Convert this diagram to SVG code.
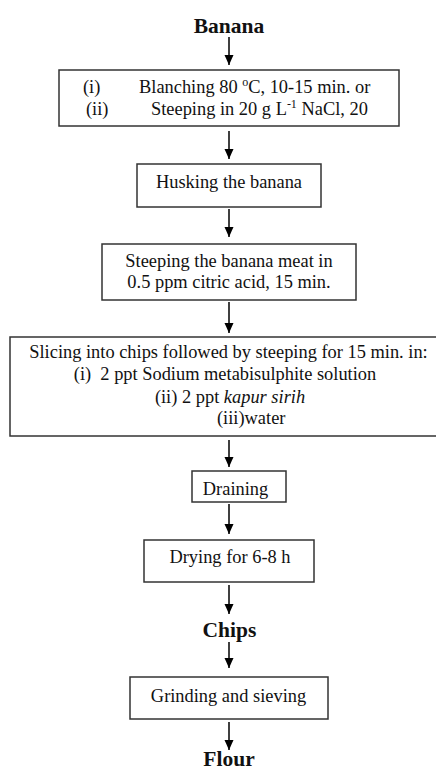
<svg xmlns="http://www.w3.org/2000/svg" width="436" height="770" viewBox="0 0 436 770">
<style>
.box{fill:#fff;stroke:#333;stroke-width:1.5}
.t{font-family:"Liberation Serif","Times New Roman",serif;font-size:18.4px;fill:#111}
.b{font-family:"Liberation Serif","Times New Roman",serif;font-size:21.5px;font-weight:bold;fill:#111}
.c{stroke:#000;stroke-width:1.5;fill:none;marker-end:url(#ah)}
</style>
<defs>
<marker id="ah" markerUnits="userSpaceOnUse" markerWidth="10" markerHeight="12" refX="5" refY="10" orient="0" viewBox="0 0 10 12">
<path d="M0.5,0 L9.5,0 L5,10 z" fill="#000"/>
</marker>
</defs>
<rect width="436" height="770" fill="#fff"/>
<g id="connectors">
<line class="c" x1="229" y1="37" x2="229" y2="65"/>
<line class="c" x1="229" y1="131" x2="229" y2="159"/>
<line class="c" x1="229" y1="209" x2="229" y2="237"/>
<line class="c" x1="229" y1="302" x2="229" y2="333"/>
<line class="c" x1="229" y1="440" x2="229" y2="467"/>
<line class="c" x1="229" y1="504" x2="229" y2="534"/>
<line class="c" x1="229" y1="585" x2="229" y2="614"/>
<line class="c" x1="229" y1="642" x2="229" y2="668"/>
<line class="c" x1="229" y1="722" x2="229" y2="750"/>
</g>
<g id="banana"><text class="b" x="229" y="33" text-anchor="middle">Banana</text></g>
<g id="blanching">
<rect class="box" x="59" y="70" width="340" height="56"/>
<text class="t" x="83" y="93">(i)</text>
<text class="t" x="139" y="93">Blanching 80 <tspan font-size="12" dy="-7">o</tspan><tspan dy="7">C, 10-15 min. or</tspan></text>
<text class="t" x="86" y="115">(ii)</text>
<text class="t" x="151" y="115">Steeping in 20 g L<tspan font-size="12" dy="-7">-1</tspan><tspan dy="7"> NaCl, 20</tspan></text>
</g>
<g id="husking">
<rect class="box" x="137" y="164" width="184" height="43"/>
<text class="t" x="229" y="188" text-anchor="middle">Husking the banana</text>
</g>
<g id="citric">
<rect class="box" x="102" y="244" width="254" height="56"/>
<text class="t" x="229" y="267" text-anchor="middle">Steeping the banana meat in</text>
<text class="t" x="229" y="288" text-anchor="middle">0.5 ppm citric acid, 15 min.</text>
</g>
<g id="slicing">
<rect class="box" x="10" y="337" width="430" height="99"/>
<text class="t" x="228.5" y="358" text-anchor="middle">Slicing into chips followed by steeping for 15 min. in:</text>
<text class="t" x="225" y="380" text-anchor="middle" xml:space="preserve">(i)  2 ppt Sodium metabisulphite solution</text>
<text class="t" x="230" y="403" text-anchor="middle">(ii) 2 ppt <tspan font-style="italic">kapur sirih</tspan></text>
<text class="t" x="217" y="424">(iii)water</text>
</g>
<g id="draining">
<rect class="box" x="192" y="471" width="94" height="31"/>
<text class="t" x="235.5" y="495" text-anchor="middle">Draining</text>
</g>
<g id="drying">
<rect class="box" x="144" y="540" width="170" height="42"/>
<text class="t" x="230" y="563" text-anchor="middle">Drying for 6-8 h</text>
</g>
<g id="chips"><text class="b" x="229.5" y="637" text-anchor="middle">Chips</text></g>
<g id="grinding">
<rect class="box" x="130" y="677" width="198" height="42"/>
<text class="t" x="228.5" y="702" text-anchor="middle">Grinding and sieving</text>
</g>
<g id="flour"><text class="b" x="229" y="766" text-anchor="middle">Flour</text></g>
</svg>
